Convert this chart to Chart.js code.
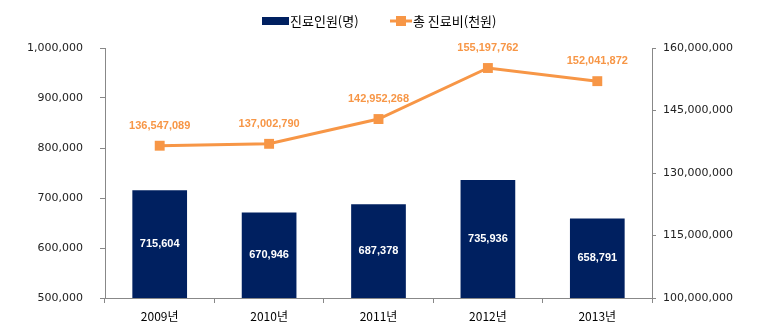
<!DOCTYPE html>
<html><head><meta charset="utf-8">
<script src="https://cdn.jsdelivr.net/npm/chart.js@4"></script>
<style>html,body{margin:0;padding:0;background:#fff}#wrap{width:761px;height:330px}</style>
</head><body><div id="wrap"><canvas id="c" width="761" height="330"></canvas></div>
<script>
const categories = ['2009년','2010년','2011년','2012년','2013년'];
const patients = [715604, 670946, 687378, 735936, 658791];
const costs = [136547089, 137002790, 142952268, 155197762, 152041872];
const seriesNames = ['진료인원(명)', '총 진료비(천원)'];

const NAVY = '#002060', ORANGE = '#F79646';
const CJK = '"Noto Sans CJK KR", "Noto Sans", sans-serif';
const TICKF = '"DejaVu Sans", "Noto Sans CJK KR", sans-serif';
const fmt = v => v.toLocaleString('en-US');

const labelPlugin = {
  id: 'labels',
  afterDraw(chart) {
    const ctx = chart.ctx;
    ctx.save();
    ctx.font = 'bold 11px "Liberation Sans", Arial, sans-serif';
    ctx.textAlign = 'center';
    ctx.textBaseline = 'middle';
    const ys = chart.scales.y, xs = chart.scales.x, y1 = chart.scales.y1;
    patients.forEach((v, i) => {
      const x = xs.getPixelForValue(i);
      const top = ys.getPixelForValue(v);
      ctx.fillStyle = '#ffffff';
      ctx.fillText(fmt(v), x, (top + ys.bottom) / 2);
    });
    costs.forEach((v, i) => {
      const x = xs.getPixelForValue(i);
      ctx.fillStyle = ORANGE;
      ctx.fillText(fmt(v), x, y1.getPixelForValue(v) - 20);
    });
    // legend
    ctx.font = '13px ' + CJK;
    ctx.textAlign = 'left';
    const y = 21;
    ctx.fillStyle = NAVY;
    ctx.fillRect(262, y - 4, 27, 8);
    ctx.fillStyle = '#000';
    ctx.fillText(seriesNames[0], 290, y);
    ctx.strokeStyle = ORANGE;
    ctx.lineWidth = 3;
    ctx.beginPath(); ctx.moveTo(390, y); ctx.lineTo(412, y); ctx.stroke();
    ctx.fillStyle = ORANGE;
    ctx.fillRect(396, y - 5, 10, 10);
    ctx.fillStyle = '#000';
    ctx.fillText(seriesNames[1], 413, y);
    ctx.restore();
  }
};

new Chart(document.getElementById('c'), {
  data: {
    labels: categories,
    datasets: [
      { type: 'line', label: seriesNames[1], data: costs, yAxisID: 'y1', borderColor: ORANGE, backgroundColor: ORANGE,
        borderWidth: 3, pointStyle: 'rect', pointRadius: 7, pointBorderWidth: 0, pointBackgroundColor: ORANGE, tension: 0, order: 0 },
      { type: 'bar', label: seriesNames[0], data: patients, yAxisID: 'y', backgroundColor: NAVY,
        categoryPercentage: 1, barPercentage: 0.5, order: 1 }
    ]
  },
  options: {
    responsive: false,
    animation: false,
    layout: { padding: { top: 48, left: 0, right: 0, bottom: 0 } },
    plugins: { legend: { display: false }, tooltip: { enabled: false } },
    scales: {
      x: {
        offset: true,
        grid: { display: true, offset: true, drawOnChartArea: false, drawTicks: true, tickLength: 5, color: '#888' },
        border: { display: true, color: '#888' },
        ticks: { color: '#000', font: { size: 12, family: CJK }, padding: 6 },
        afterFit(s) { s.height = 32; }
      },
      y: {
        position: 'left', min: 500000, max: 1000000,
        grid: { display: true, drawOnChartArea: false, drawTicks: true, tickLength: 5, color: '#888' },
        border: { display: true, color: '#888' },
        ticks: { stepSize: 100000, color: '#222', font: { size: 11, family: TICKF }, padding: 17, callback: v => fmt(v) },
        afterFit(s) { s.width = 105; }
      },
      y1: {
        position: 'right', min: 100000000, max: 160000000,
        grid: { display: true, drawOnChartArea: false, drawTicks: true, tickLength: 4, color: '#888' },
        border: { display: true, color: '#888' },
        ticks: { stepSize: 15000000, color: '#222', font: { size: 11, family: TICKF }, padding: 7, callback: v => fmt(v) },
        afterFit(s) { s.width = 109; }
      }
    }
  },
  plugins: [labelPlugin]
});
</script></body></html>
